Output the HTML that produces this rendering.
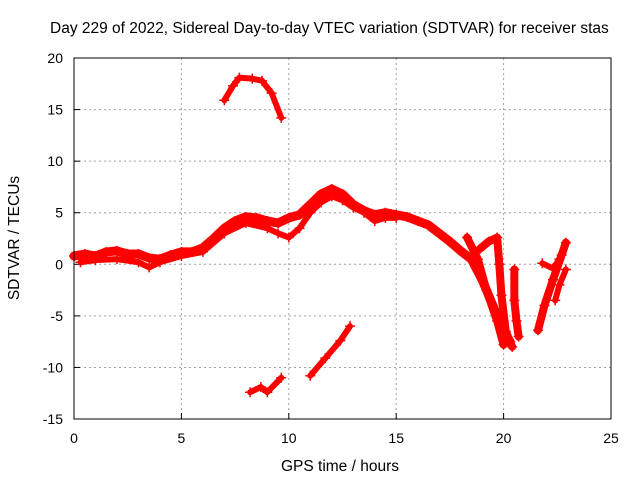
<!DOCTYPE html>
<html><head><meta charset="utf-8"><style>
body{margin:0;background:#fff;width:640px;height:480px;overflow:hidden}
svg{font-family:"Liberation Sans",sans-serif}
</style></head><body>
<svg id="c" width="640" height="480">
<text x="50" y="33" font-size="15.5">Day 229 of 2022, Sidereal Day-to-day VTEC variation (SDTVAR) for receiver stas</text>
<text x="340" y="471" font-size="15.5" text-anchor="middle">GPS time / hours</text>
<text transform="translate(19,238) rotate(-90)" font-size="15.5" text-anchor="middle">SDTVAR / TECUs</text>
<g id="grid"></g><g id="marks"></g>
<rect x="74" y="58" width="537" height="361" fill="none" stroke="#000"/>
</svg>
<script>
const xTicks=[0,5,10,15,20,25];
const yTicks=[-15,-10,-5,0,5,10,15,20];
const mainBand=[[0,0.8],[0.5,1.0],[1,0.8],[1.5,1.2],[2,1.3],[2.5,1.0],[3,1.0],[3.5,0.6],[4,0.5],[4.5,0.9],[5,1.2],[5.5,1.2],[6,1.6],[6.5,2.5],[7,3.5],[7.5,4.2],[8,4.6],[8.5,4.5],[9,4.2],[9.5,4.0],[10,4.5],[10.5,4.8],[11,5.8],[11.5,6.8],[12,7.3],[12.5,6.8],[13,5.8],[13.5,5.2],[14,4.8],[14.5,5.0],[15,4.8],[15.5,4.6],[16,4.2],[16.5,3.8],[17,3.0],[17.5,2.2],[18,1.3],[18.5,0.5],[19,-1.5],[19.5,-4],[20,-6.5],[20.3,-7.5]];
const lowerBand=[[0.3,0.2],[1,0.4],[2,0.5],[3,0.2],[3.5,-0.3],[4,0.2],[5,0.8],[6,1.2],[7,3.0],[8,4.0],[9,3.5],[9.5,3.0],[10,2.6],[10.5,3.5],[11,5.0],[11.5,6.0],[12,6.6],[12.5,6.2],[13,5.5],[13.5,5.0],[14,4.2],[14.5,4.5],[15,4.5]];
const branchB=[[18.3,2.6],[18.8,0.5],[19.2,-2.5],[19.7,-5.5],[20.0,-7.8]];
const branchC=[[18.9,1.5],[19.3,2.2],[19.7,2.6],[19.8,0],[19.9,-3],[20.1,-6.5],[20.4,-8]];
const branchD=[[20.5,-0.5],[20.5,-3.5],[20.6,-5.5],[20.7,-7]];
const branchE=[[21.6,-6.4],[21.9,-4],[22.3,-1.5],[22.7,0.9],[22.9,2.1]];
const branchF=[[21.8,0.1],[22.3,-0.4],[22.6,0.5]];
const branchG=[[22.4,-3.5],[22.6,-2],[22.9,-0.5]];
const topArc=[[7.0,15.9],[7.4,17.3],[7.7,18.1],[8.3,18.0],[8.75,17.8],[9.2,16.6],[9.65,14.2]];
const lowArc1=[[8.2,-12.4],[8.7,-11.9],[9.0,-12.4],[9.65,-11.0]];
const lowArc2=[[11.0,-10.8],[11.7,-9.1],[12.4,-7.4],[12.85,-6.0]];
const X=h=>74+h*537/25, Y=v=>264.3-v*361/35;
const NS="http://www.w3.org/2000/svg";
const grid=document.getElementById('grid'), marks=document.getElementById('marks');
function mk(t,a,p){const e=document.createElementNS(NS,t);for(const k in a)e.setAttribute(k,a[k]);p.appendChild(e);return e;}
xTicks.forEach(t=>{
 if(t>0&&t<25){const l=mk('line',{x1:X(t),x2:X(t),y1:58,y2:419,stroke:'#a0a0a0','stroke-dasharray':'2,3'},grid);
 
 }
 const tk=mk('line',{x1:X(t),x2:X(t),y1:419,y2:413,stroke:'#000'},grid);
 
 
 const tx=mk('text',{x:X(t),y:443,'font-size':14,'text-anchor':'middle'},grid);tx.textContent=t;
 
 
});
yTicks.forEach(t=>{
 if(t>-15&&t<20){const l=mk('line',{x1:74,x2:611,y1:Y(t),y2:Y(t),stroke:'#a0a0a0','stroke-dasharray':'2,3'},grid);
 
 }
 const tk=mk('line',{x1:74,x2:80,y1:Y(t),y2:Y(t),stroke:'#000'},grid);
 
 
 const tx=mk('text',{x:63,y:Y(t)+5,'font-size':14,'text-anchor':'end'},grid);tx.textContent=t;
 
 
});
const series=[[mainBand,'main-band',9],[lowerBand,'lower-band',6],[branchB,'branch-b',8],[branchC,'branch-c',8],[branchD,'branch-d',8],[branchE,'branch-e',8],[branchF,'branch-f',6],[branchG,'branch-g',6],[topArc,'top-arc',6],[lowArc1,'low-arc-1',6],[lowArc2,'low-arc-2',6]];
series.forEach(([d,n,w])=>{
 const pl=mk('polyline',{points:d.map(p=>X(p[0])+','+Y(p[1])).join(' '),fill:'none',stroke:'#f00','stroke-width':w,'stroke-linejoin':'round','stroke-linecap':'round'},marks);
 
 
 d.forEach(p=>{const x=X(p[0]),y=Y(p[1]);
  const m=mk('path',{d:`M${x-5},${y}H${x+5}M${x},${y-5}V${y+5}`,stroke:'#f00','stroke-width':1.5},marks);
  
  });
});
</script>
</body></html>
